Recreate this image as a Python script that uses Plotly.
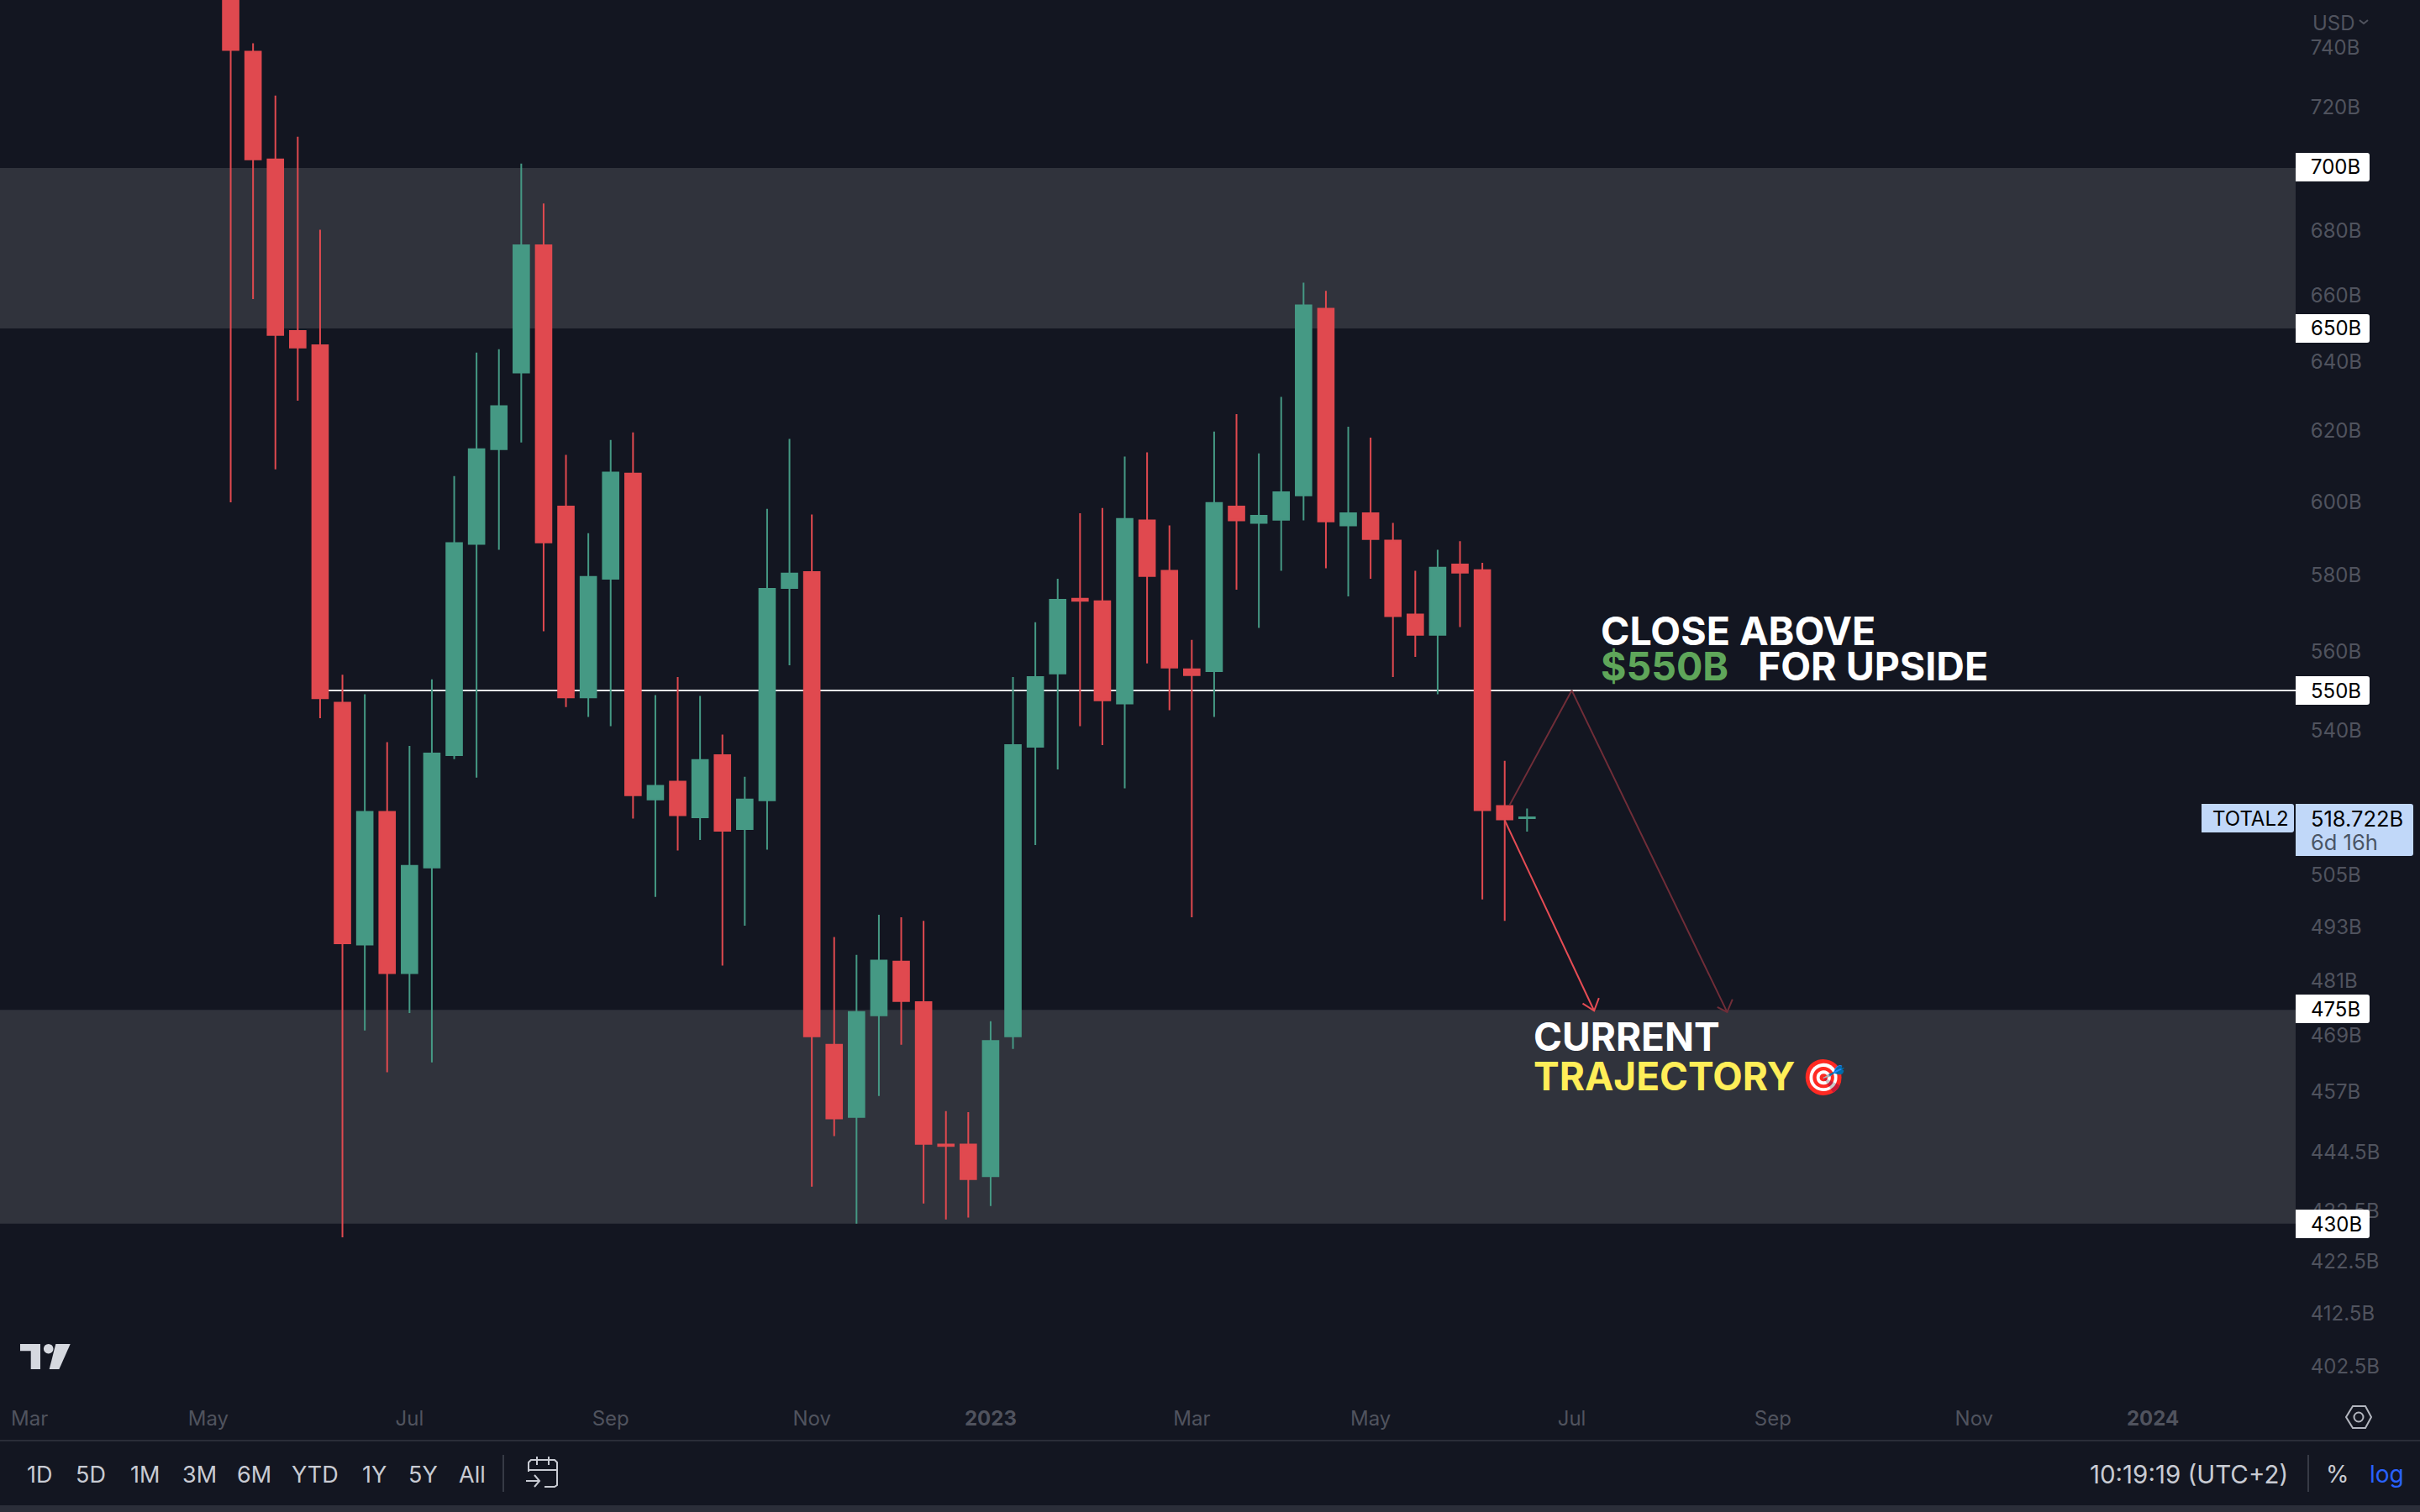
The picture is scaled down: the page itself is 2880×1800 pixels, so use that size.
import plotly.graph_objects as go

W, H = 2880, 1800
BG = "#131621"; ZONE = "#30333c"; RED = "#e0494f"; GREEN = "#459984"
TICK = "#50535e"; UI = "#c8cbd3"; LINE = "#2a2d38"; LABEL_BLUE = "#c1d8f9"; FONT = "Inter"

dates = ["2022-05-09","2022-05-16","2022-05-23","2022-05-30","2022-06-06","2022-06-13","2022-06-20","2022-06-27",
"2022-07-04","2022-07-11","2022-07-18","2022-07-25","2022-08-01","2022-08-08","2022-08-15","2022-08-22",
"2022-08-29","2022-09-05","2022-09-12","2022-09-19","2022-09-26","2022-10-03","2022-10-10","2022-10-17",
"2022-10-24","2022-10-31","2022-11-07","2022-11-14","2022-11-21","2022-11-28","2022-12-05","2022-12-12",
"2022-12-19","2022-12-26","2023-01-02","2023-01-09","2023-01-16","2023-01-23","2023-01-30","2023-02-06",
"2023-02-13","2023-02-20","2023-02-27","2023-03-06","2023-03-13","2023-03-20","2023-03-27","2023-04-03",
"2023-04-10","2023-04-17","2023-04-24","2023-05-01","2023-05-08","2023-05-15","2023-05-22","2023-05-29",
"2023-06-05","2023-06-12","2023-06-19"]
opens = [775,738.6,702.8,649.3,645.0,546.9,489.1,520.0,482.7,506.8,533.8,588.5,614.8,636.9,675.5,598.7,548.2,579.1,607.9,
523.0,527.3,518.7,533.8,515.9,522.8,576.6,580.9,467.0,451.7,473.4,485.3,476.3,446.0,446.0,439.5,468.8,535.9,554.3,
573.8,573.1,546.7,594.9,581.2,555.4,554.9,598.7,594.2,595.1,601.8,656.0,593.5,596.9,589.4,569.6,564.3,582.9,581.4,521.4,518.5]
highs = [790,741.5,723.8,710.2,680.3,554.0,549.0,537.0,536.1,552.8,607.2,642.8,643.8,701.4,688.6,613.2,591.4,617.4,619.6,
548.8,553.4,548.6,538.9,528.5,598.1,617.7,596.5,490.8,486.8,495.9,495.3,494.5,452.9,452.7,472.1,553.4,567.6,579.1,
596.9,598.3,612.7,613.9,593.5,563.0,619.8,624.8,613.6,629.8,663.9,661.4,621.2,618.1,594.2,581.2,586.9,589.2,583.4,532.4,520.8]
lows = [599.9,658.9,609.1,628.7,543.0,427.3,470.1,461.1,473.9,463.2,532.8,528.3,586.9,616.7,565.2,545.8,543.3,541.0,518.4,
500.0,510.8,513.3,484.4,493.4,511.0,556.4,437.4,447.7,430.0,456.1,467.0,434.0,430.8,431.2,433.5,466.1,512.1,530.3,
541.0,536.3,525.7,556.9,545.0,495.3,543.3,576.2,566.1,581.2,594.9,581.9,574.4,579.1,553.4,558.6,549.0,566.3,499.4,494.5,515.3]
closes = [739.2,702.8,648.1,644.3,548.0,489.4,520.0,482.7,507.2,534.2,588.7,614.8,627.1,675.5,588.9,548.2,579.6,608.2,524.0,
526.3,519.2,532.6,515.5,523.0,576.4,580.5,468.8,451.4,474.1,485.5,476.5,446.1,445.7,438.9,467.8,536.3,553.4,573.5,
573.2,547.5,595.3,579.8,555.8,553.9,599.7,594.9,596.2,602.7,657.0,594.6,596.9,589.8,569.2,564.3,582.1,580.7,520.4,518.2,518.7]

ytick_vals = [740,720,680,660,640,620,600,580,560,540,505,493,481,469,457,444.5,432.5,422.5,412.5,402.5]
ytick_text = ["740B","720B","680B","660B","640B","620B","600B","580B","560B","540B","505B","493B","481B","469B","457B",
              "444.5B","432.5B","422.5B","412.5B","402.5B"]
xtick_vals = ["2022-03-07","2022-05-02","2022-07-04","2022-09-05","2022-11-07","2023-01-02","2023-03-06","2023-05-01",
              "2023-07-03","2023-09-04","2023-11-06","2024-01-01"]
xtick_text = ["Mar","May","Jul","Sep","Nov","<b>2023</b>","Mar","May","Jul","Sep","Nov","<b>2024</b>"]

zones = [(650, 700), (430, 474.6)]
level_550 = 550
level_dates = ["2022-06-06", "2024-02-14 17:00"]
up_path_dates = ["2023-06-13 12:00", "2023-07-03", "2023-08-20 16:00"]
up_path_prices = [521.6, 550, 474.1]
up_head_dates = ["2023-08-17 14:00", "2023-08-20 16:00", "2023-08-22 08:00"]
up_head_prices = [475.2, 474.1, 476.9]
down_path_dates = ["2023-06-12", "2023-07-10"]
down_path_prices = [518.0, 474.4]
down_head_dates = ["2023-07-06 10:00", "2023-07-10", "2023-07-11 12:00"]
down_head_prices = [476.0, 474.4, 477.2]
range_buttons = [("1D",47),("5D",108),("1M",172),("3M",237),("6M",302),("YTD",375),("1Y",445),("5Y",504),("All",562)]

def X(x): return x / W
def Y(y): return 1 - y / H

fig = go.Figure()
DIM = "#702d38"; BRIGHT = "#e64c54"
fig.add_trace(go.Scatter(x=up_path_dates, y=up_path_prices, mode="lines", line=dict(color=DIM, width=2), hoverinfo="skip"))
fig.add_trace(go.Scatter(x=up_head_dates, y=up_head_prices, mode="lines", line=dict(color=DIM, width=2), hoverinfo="skip"))
fig.add_trace(go.Candlestick(x=dates, open=opens, high=highs, low=lows, close=closes,
    increasing=dict(line=dict(color=GREEN, width=2), fillcolor=GREEN),
    decreasing=dict(line=dict(color=RED, width=2), fillcolor=RED), whiskerwidth=0, hoverinfo="skip"))
fig.add_trace(go.Scatter(x=down_path_dates, y=down_path_prices, mode="lines", line=dict(color=BRIGHT, width=2), hoverinfo="skip"))
fig.add_trace(go.Scatter(x=down_head_dates, y=down_head_prices, mode="lines", line=dict(color=BRIGHT, width=2), hoverinfo="skip"))

shapes = []
for lo, hi in zones:
    shapes.append(dict(type="rect", xref="x domain", yref="y", x0=0, x1=1, y0=lo, y1=hi,
                       fillcolor=ZONE, line_width=0, layer="below"))
shapes.append(dict(type="line", xref="x", yref="y", x0=level_dates[0], x1=level_dates[1], y0=level_550, y1=level_550,
                   line=dict(color="#e8e9ea", width=2), layer="below"))

def box(x0, y0, x1, y1, color, r=3):
    p = (f"M{X(x0)},{Y(y0)} L{X(x1-r)},{Y(y0)} Q{X(x1)},{Y(y0)} {X(x1)},{Y(y0+r)} "
         f"L{X(x1)},{Y(y1-r)} Q{X(x1)},{Y(y1)} {X(x1-r)},{Y(y1)} L{X(x0)},{Y(y1)} Z")
    shapes.append(dict(type="path", xref="paper", yref="paper", path=p, fillcolor=color, line_width=0, layer="above"))

def rect(x0, y0, x1, y1, color):
    shapes.append(dict(type="rect", xref="paper", yref="paper", x0=X(x0), x1=X(x1), y0=Y(y0), y1=Y(y1),
                       fillcolor=color, line_width=0, layer="above"))

def poly(points, color=UI, width=2, close=False, fill=None):
    p = "M" + " L".join(f"{X(a)},{Y(b)}" for a, b in points) + (" Z" if close else "")
    shapes.append(dict(type="path", xref="paper", yref="paper", path=p, layer="above",
                       fillcolor=fill if fill else "rgba(0,0,0,0)",
                       line=dict(color=color, width=width) if width else dict(width=0)))

def circle(cx, cy, r, color=UI, width=2, fill=None):
    shapes.append(dict(type="circle", xref="paper", yref="paper", x0=X(cx-r), x1=X(cx+r), y0=Y(cy+r), y1=Y(cy-r),
                       layer="above", fillcolor=fill if fill else "rgba(0,0,0,0)",
                       line=dict(color=color, width=width) if width else dict(width=0)))

# boxed price labels
for cy in (199, 391, 822, 1201, 1457):
    box(2732, cy-17, 2820, cy+17, "#ffffff")
box(2620, 957, 2730, 991, LABEL_BLUE)
box(2732, 957, 2872, 1019, LABEL_BLUE)
# footer
rect(0, 1714, W, 1716, LINE)
rect(0, 1792, W, H, "#2b2e39")
rect(598, 1732, 600, 1776, "#363a45")
rect(2746, 1732, 2748, 1776, "#363a45")
# TradingView logo
LOGO = "#d5d8df"
poly([(24,1600),(48,1600),(48,1630),(36.7,1630),(36.7,1608.3),(24,1608.3)], color=LOGO, width=0, close=True, fill=LOGO)
poly([(66.3,1600),(83.7,1600),(70.4,1630),(58.7,1630)], color=LOGO, width=0, close=True, fill=LOGO)
circle(57.7, 1605.7, 5.8, color=LOGO, width=0, fill=LOGO)
# calendar icon
poly([(629,1752),(629,1741),(632,1738),(660,1738),(663,1741),(663,1768),(660,1770),(648,1770)])
poly([(629,1750),(663,1750)])
poly([(639,1734),(639,1744)]); poly([(653,1734),(653,1744)])
poly([(626,1763),(642,1763)]); poly([(636,1756),(642,1763),(636,1770)])
# settings hexagon
poly([(2792,1687),(2800,1674),(2815,1674),(2822,1687),(2815,1700),(2800,1700)], color="#b2b5be", close=True)
circle(2807, 1687, 5.5, color="#b2b5be")
# USD chevron
poly([(2808,24),(2813,28),(2818,24)], color=TICK)

def ann(text, x, y, size=24, color=TICK, anchor="left", weight=None, family=FONT):
    font = dict(family=family, size=size, color=color)
    if weight: font["weight"] = weight
    return dict(text=text, x=X(x), y=Y(y), xref="paper", yref="paper", xanchor=anchor, yanchor="middle",
                showarrow=False, font=font, borderpad=0)

anns = [
    ann("700B", 2749, 199, color="#000000"), ann("650B", 2749, 391, color="#000000"),
    ann("550B", 2749, 822, color="#000000"), ann("475B", 2749, 1201, color="#000000"),
    ann("430B", 2749, 1457, color="#000000"),
    ann("TOTAL2", 2632, 974, color="#000000"), ann("518.722B", 2749, 974, size=25.5, color="#000000"),
    ann("6d 16h", 2749, 1002, size=25.5, color="#4a5565"), ann("USD", 2751, 28),
    ann("CLOSE ABOVE", 1904, 751, size=46.5, color="#ffffff", weight=700),
    ann("$550B", 1904, 793, size=46.5, color="#5fa65a", weight=700),
    ann("FOR UPSIDE", 2091, 793, size=46.5, color="#ffffff", weight=700),
    ann("CURRENT", 1824, 1234, size=46, color="#ffffff", weight=700),
    ann("TRAJECTORY", 1824, 1281, size=46, color="#ffee58", weight=700),
    ann("🎯", 2143, 1282, size=42, color="#ffffff", family="Noto Color Emoji"),
    ann("10:19:19 (UTC+2)", 2724, 1755, size=29.5, color=UI, anchor="right"),
    ann("%", 2782, 1755, size=28, color=UI, anchor="center"),
    ann("log", 2840, 1755, size=28, color="#2962ff", anchor="center"),
]
for label, cx in range_buttons:
    anns.append(ann(label, cx, 1755, size=27, color=UI, anchor="center"))

fig.update_layout(
    width=W, height=H, margin=dict(l=0, r=0, t=0, b=0), paper_bgcolor=BG, plot_bgcolor=BG,
    showlegend=False, hovermode=False, boxgap=0.3, boxgroupgap=0, shapes=shapes, annotations=anns,
    font=dict(family=FONT),
    xaxis=dict(domain=[0, 2732/W], type="date", range=["2022-02-25 18:00", "2024-02-14 17:00"],
               tickmode="array", tickvals=xtick_vals, ticktext=xtick_text, tickangle=0,
               tickfont=dict(family=FONT, size=24, color=TICK), showgrid=False, zeroline=False, showline=False,
               ticks="", rangeslider=dict(visible=False), automargin=False),
    yaxis=dict(domain=[(H-1672)/H, 1], type="log", side="right", range=[2.5972, 2.87878],
               tickmode="array", tickvals=ytick_vals, ticktext=ytick_text,
               tickfont=dict(family=FONT, size=24, color=TICK), showgrid=False, zeroline=False, showline=False,
               ticks="outside", ticklen=12, tickcolor=BG, automargin=False),
)
fig.write_html("out.html", config={"displayModeBar": False},
               post_script="document.body.style.margin='0';document.body.style.overflow='hidden';")
